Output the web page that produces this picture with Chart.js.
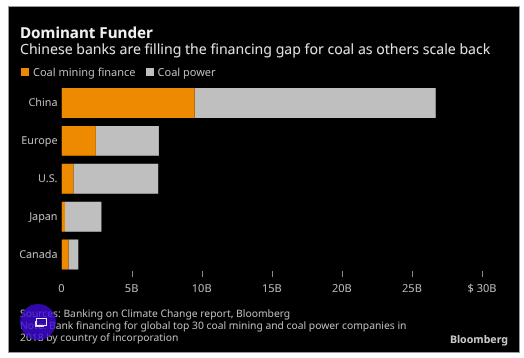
<!DOCTYPE html>
<html>
<head>
<meta charset="utf-8">
<script src="https://cdn.jsdelivr.net/npm/chart.js@4"></script>
<style>
  html, body { margin: 0; background: #fff; }
  #page { position: relative; width: 524px; height: 358px; overflow: hidden; filter: blur(0.45px); text-rendering: geometricPrecision; }
  #panel { position: absolute; left: 9px; top: 7px; width: 510px; height: 345px; background: #000; box-shadow: 0 0 0 1px #999; }
  canvas { position: absolute; left: 0; top: 0; }
  #sub { position: absolute; left: 20px; top: 41px; font: 14.1px "Noto Sans"; color: #e0e0e0; white-space: nowrap; line-height: 17px; }
  .note { position: absolute; left: 20px; font: 10.3px "Noto Sans"; color: #bdbdbd; white-space: nowrap; line-height: 12px; }
  #legend { position: absolute; left: 21px; top: 65px; font: 11px "Noto Sans"; color: #bdbdbd; line-height: 15px; white-space: nowrap; }
  #legend span { display: inline-block; margin-right: 10px; }
  #legend i { display: inline-block; width: 8px; height: 8px; margin-right: 4px; }
  #logo { position: absolute; right: 16px; top: 333px; font: bold 10.6px "Noto Sans"; color: #c8c8c8; }
  #badge { position: absolute; left: 20px; top: 304px; width: 36px; height: 36px; border-radius: 50%; background: radial-gradient(circle, rgba(62,10,215,0.8) 0 68%, rgba(50,10,190,0.55) 90%, rgba(40,10,150,0) 100%); }
  #badge div { position: absolute; left: 16px; top: 14px; width: 9px; height: 6px; border: 1px solid #eee; box-shadow: -2px 2px 0 -1px #ddd; }
</style>
</head>
<body>
<div id="page">
  <div id="panel"></div>
  <canvas id="chart" width="524" height="358"></canvas>
  <!-- not the chart subtitle: that one gets squeezed to the plot's right padding -->
  <div id="sub">Chinese banks are filling the financing gap for coal as others scale back</div>
  <div id="legend"></div>
  <div class="note" style="top:308px">Sources: Banking on Climate Change report, Bloomberg</div>
  <div class="note" style="top:320px">Note: Bank financing for global top 30 coal mining and coal power companies in</div>
  <div class="note" style="top:332px">2018 by country of incorporation</div>
  <div id="logo">Bloomberg</div>
  <div id="badge"><div></div></div>
</div>
<script>
  const countries = ["China", "Europe", "U.S.", "Japan", "Canada"];
  const miningFinance = [9.5, 2.45, 0.85, 0.25, 0.5];
  const coalPower = [17.2, 4.5, 6.05, 2.6, 0.7];
  const xTicks = [0, 5, 10, 15, 20, 25, 30];

  // small tick marks above the x labels, they start a little above the axis bottom
  const tickMarks = {
    id: "tickMarks",
    // has to go here, chart.js resets the canvas state when it sizes it
    beforeDraw(chart) {
      chart.ctx.textRendering = "geometricPrecision";
    },
    afterDatasetsDraw(chart) {
      const ctx = chart.ctx;
      const x = chart.scales.x;
      ctx.save();
      ctx.strokeStyle = "#8a8a8a";
      xTicks.slice(1).forEach(t => {
        const px = Math.round(x.getPixelForValue(t)) + 0.5;
        ctx.beginPath();
        ctx.moveTo(px, 271);
        ctx.lineTo(px, 277);
        ctx.stroke();
      });
      ctx.restore();
    }
  };

  const chart = new Chart(document.getElementById("chart").getContext("2d"), {
    type: "bar",
    data: {
      labels: countries,
      datasets: [
        { label: "Coal mining finance", data: miningFinance, backgroundColor: "#ee8a00" },
        { label: "Coal power", data: coalPower, backgroundColor: "#bfbfbf" }
      ]
    },
    plugins: [tickMarks],
    options: {
      indexAxis: "y",
      responsive: false,
      animation: false,
      categoryPercentage: 1,
      barPercentage: 0.79,
      layout: { padding: { left: 20, right: 42, top: 24.5, bottom: 0 } },
      plugins: {
        title: {
          display: true,
          text: "Dominant Funder",
          align: "start",
          color: "#f0f0f0",
          font: { family: "Noto Sans", size: 15.2, weight: "bold" },
          padding: { top: 0, bottom: 41.3 }
        },
        legend: { display: false },
        tooltip: { enabled: false }
      },
      scales: {
        x: {
          type: "linear",
          stacked: true,
          min: 0,
          max: 30,
          position: "bottom",
          afterFit(scale) { scale.height = 84.5; },
          afterBuildTicks(scale) { scale.ticks = xTicks.map(v => ({ value: v })); },
          border: { display: false },
          grid: { display: false, tickLength: 0 },
          ticks: {
            color: "#bdbdbd",
            padding: 9,
            maxRotation: 0,
            font: { family: "Noto Sans", size: 11 },
            callback: v => v === 0 ? "0" : v === 30 ? "$ 30B" : v + "B"
          }
        },
        y: {
          stacked: true,
          afterFit(scale) { scale.width = 41.5; },
          border: { display: false },
          grid: { display: false, tickLength: 0 },
          ticks: {
            color: "#bdbdbd",
            padding: 4,
            font: { family: "Noto Sans", size: 10.8 }
          }
        }
      }
    }
  });

  // legend sits tighter than the built in one allows
  document.getElementById("legend").innerHTML = chart.data.datasets.map(d =>
    `<span><i style="background:${d.backgroundColor}"></i>${d.label}</span>`).join("");
</script>
</body>
</html>
